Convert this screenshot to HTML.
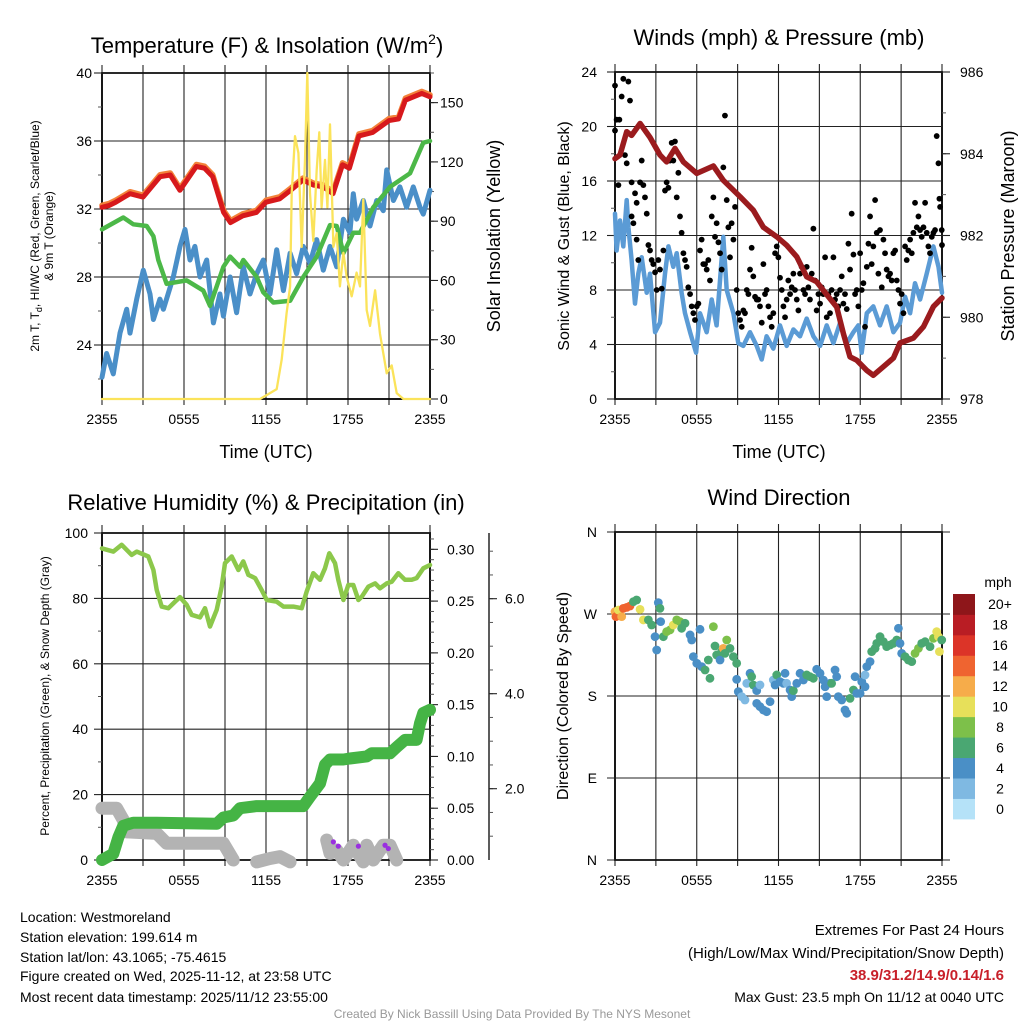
<!DOCTYPE html>
<html><head><meta charset="utf-8">
<style>
html,body{margin:0;padding:0;background:#fff;}
svg{display:block;font-family:"Liberation Sans",Arial,sans-serif;}
</style></head>
<body>
<svg id="chart" width="1024" height="1024" viewBox="0 0 1024 1024" xmlns="http://www.w3.org/2000/svg">
<rect x="0" y="0" width="1024" height="1024" fill="#fff"/>
<text x="267" y="53" font-size="22" text-anchor="middle">Temperature (F) &amp; Insolation (W/m<tspan font-size="14" dy="-9">2</tspan><tspan dy="9">)</tspan></text>
<text x="779" y="45" font-size="22" text-anchor="middle">Winds (mph) &amp; Pressure (mb)</text>
<text x="266" y="510" font-size="22" text-anchor="middle">Relative Humidity (%) &amp; Precipitation (in)</text>
<text x="779" y="505" font-size="22" text-anchor="middle">Wind Direction</text>
<text x="266" y="458" font-size="18" text-anchor="middle">Time (UTC)</text>
<text x="779" y="458" font-size="18" text-anchor="middle">Time (UTC)</text>
<text transform="translate(39,236) rotate(-90)" font-size="12" text-anchor="middle">2m T, T<tspan font-size="9" dy="3">d</tspan><tspan dy="-3">, HI/WC (Red, Green, Scarlet/Blue)</tspan></text>
<text transform="translate(53,236) rotate(-90)" font-size="12" text-anchor="middle">&amp; 9m T (Orange)</text>
<text transform="translate(500,236) rotate(-90)" font-size="18" text-anchor="middle">Solar Insolation (Yellow)</text>
<text transform="translate(569,236) rotate(-90)" font-size="16" text-anchor="middle">Sonic Wind &amp; Gust (Blue, Black)</text>
<text transform="translate(1014,236) rotate(-90)" font-size="18" text-anchor="middle">Station Pressure (Maroon)</text>
<text transform="translate(49,696) rotate(-90)" font-size="12" text-anchor="middle">Percent, Precipitation (Green), &amp; Snow Depth (Gray)</text>
<text transform="translate(568,696) rotate(-90)" font-size="16" text-anchor="middle">Direction (Colored By Speed)</text>
<text x="998" y="587" font-size="14" text-anchor="middle">mph</text>
<g font-size="14">
<text x="20" y="922">Location: Westmoreland</text>
<text x="20" y="942">Station elevation: 199.614 m</text>
<text x="20" y="962">Station lat/lon: 43.1065; -75.4615</text>
<text x="20" y="981">Figure created on Wed, 2025-11-12, at 23:58 UTC</text>
<text x="20" y="1002">Most recent data timestamp: 2025/11/12 23:55:00</text>
</g>
<g font-size="15" text-anchor="end">
<text x="1004" y="935">Extremes For Past 24 Hours</text>
<text x="1004" y="958">(High/Low/Max Wind/Precipitation/Snow Depth)</text>
<text x="1004" y="980" font-weight="bold" fill="#c8202a">38.9/31.2/14.9/0.14/1.6</text>
<text x="1004" y="1002" font-size="14">Max Gust: 23.5 mph On 11/12 at 0040 UTC</text>
</g>
<text x="512" y="1018" font-size="12" fill="#999" text-anchor="middle">Created By Nick Bassill Using Data Provided By The NYS Mesonet</text>
</svg>
<script>
const timeTickLabels = ["2355","0555","1155","1755","2355"];
const tempTicks = [24,28,32,36,40];
const solarTicks = [0,30,60,90,120,150];
const windTicks = [0,4,8,12,16,20,24];
const pressTicks = [978,980,982,984,986];
const rhTicks = [0,20,40,60,80,100];
const precipTicks = [0.00,0.05,0.10,0.15,0.20,0.25,0.30];
const snowTicks = [2.0,4.0,6.0];
const dirTicks = [0,90,180,270,360];
const dirLabels = ["N","E","S","W","N"];
const speedBins = ["0","2","4","6","8","10","12","14","16","18","20+"];
const speedColors = ["#b5e2f8","#7fb9e2","#4a8fc6","#4aa772","#7dc04a","#e7e05a","#f6ac4a","#ef6430","#dc3428","#b91d24","#8e161a"];

const redT = [0,0.5,1,2.05,3,4.25,5,5.7,6.9,7.5,8.1,8.9,9.4,10.3,11.3,12,13,13.8,14.7,15.5,16.2,16.9,17.6,18.1,18.8,19.8,21,21.7,22.2,23.4,24];
const redV = [32.1,32.2,32.4,32.9,32.7,33.9,34.0,33.1,34.5,34.4,33.9,31.8,31.2,31.6,31.8,32.4,32.6,33.1,33.7,33.4,33.3,32.9,34.6,34.4,36.3,36.5,37.2,37.3,38.4,38.8,38.6];
const greenT = [0,1.56,2.29,3.27,3.76,4.12,4.73,6.2,7.41,7.9,8.88,9.37,10.1,10.34,11.32,11.8,12.54,13.76,14.73,15.71,16.68,17.17,17.66,18.39,18.88,19.85,21.07,22.54,23.51,24];
const greenV = [30.8,31.5,31.1,31.0,30.4,29.0,27.6,27.8,27.2,26.3,28.6,29.2,28.6,29.0,28.0,27.1,26.5,26.6,28.0,29.2,31.05,31.0,29.4,30.6,30.6,32.1,33.3,34.1,35.9,36.0];
const blueT = [0,0.34,0.83,1.32,1.81,2.05,2.54,3.02,3.51,3.76,4.24,4.49,5.22,5.71,6.07,6.44,6.8,7.17,7.66,8.15,8.63,8.88,9.37,9.85,10.34,10.83,11.32,11.8,12.29,12.78,13.27,13.76,14.24,14.73,15.22,15.71,16.19,16.68,17.17,17.66,18.14,18.39,18.63,19.12,19.61,20.1,20.58,20.83,21.32,21.8,22.29,22.78,23.27,23.51,24];
const blueV = [22.1,23.5,22.3,24.7,26.1,24.7,26.7,28.4,27.0,25.5,26.7,26.1,28.0,29.8,30.8,29.0,29.8,28.0,29.0,25.3,27.0,25.7,28.0,25.9,28.6,27.0,28.2,29.0,27.0,29.6,27.2,29.4,28.2,29.8,28.8,30.2,28.4,29.8,28.6,31.4,30.6,32.9,31.4,32.5,31.0,32.5,31.9,34.3,32.5,33.3,32.1,33.3,32.1,31.7,33.1];
const solarT = [0,11.56,12.29,12.78,13.15,13.51,13.76,13.88,14.12,14.37,14.61,14.85,15.02,15.22,15.46,15.71,15.9,16.07,16.32,16.49,16.68,16.93,17.17,17.41,17.66,17.9,18.27,18.63,18.88,19.12,19.37,19.61,19.98,20.34,20.83,21.2,21.56,22.05,24];
const solarV = [0,0,3,5,20,43.5,57,104,133,124.5,77,121,165,104,80,116,135,97,121,97,139,77,84,57,74,62,52,64,57,101,45,37,55,33,13,17,3,0,0];

const pressT = [0,0.37,0.86,1.22,1.84,2.57,3.3,3.79,4.4,5.02,6.0,7.22,7.95,9.18,10.15,10.89,11.87,12.6,13.34,14.07,14.8,15.29,16.27,16.76,17.25,17.74,18.48,18.96,19.7,20.43,20.92,21.9,22.64,23.37,24];
const pressV = [983.88,983.97,984.54,984.45,984.74,984.4,983.97,983.8,984.13,983.8,983.52,983.7,983.35,982.95,982.62,982.2,981.97,981.76,981.48,980.99,980.87,980.66,980.25,979.6,979.03,978.95,978.7,978.58,978.79,979.0,979.37,979.49,979.77,980.26,980.47];
const windT = [0,0.12,0.37,0.61,0.86,0.98,1.22,1.47,1.71,1.96,2.33,2.57,2.94,3.3,3.67,3.92,4.28,4.53,4.89,5.14,5.51,5.95,6.24,6.73,7.1,7.46,7.95,8.2,8.69,9.05,9.42,9.91,10.4,10.77,11.13,11.62,12.11,12.6,13.09,13.58,14.07,14.56,15.05,15.54,16.03,16.52,17.01,17.5,17.86,18.11,18.48,18.96,19.45,19.94,20.43,20.92,21.29,21.66,22.02,22.39,22.88,23.37,23.74,24];
const windV = [13.6,10.9,13.1,11.2,14.6,12.6,10.2,7.0,9.2,10.4,7.8,9.2,4.9,5.6,9.2,11.2,9.7,10.7,7.8,6.3,4.9,3.4,6.3,4.9,7.3,5.4,11.9,8.0,6.3,4.1,3.9,4.9,3.9,2.9,4.6,3.7,5.4,3.9,5.1,4.6,5.9,4.6,3.9,5.4,4.1,5.6,4.1,4.9,5.4,3.4,6.3,6.8,5.4,6.8,4.9,5.6,7.5,6.3,8.5,7.3,9.2,11.2,9.7,7.8];
const gustT = [0,0,0.12,0.32,0.25,0.61,0.49,0.98,1.1,0.73,0.86,1.22,1.22,1.35,1.59,1.47,1.59,1.71,1.84,1.96,2.08,2.2,2.33,2.45,2.57,2.69,2.81,2.94,3.06,3.18,3.3,3.43,3.55,3.67,3.79,3.92,4.04,4.16,4.28,4.4,4.53,4.65,4.77,4.89,5.02,5.14,5.26,5.38,5.51,5.63,5.75,5.87,6.0,6.12,6.24,6.36,6.48,6.61,6.73,6.85,6.97,7.1,7.22,7.34,7.46,7.59,7.71,7.83,7.95,8.07,8.2,8.32,8.44,8.56,8.69,8.81,8.93,9.05,9.18,9.3,9.42,9.54,9.67,9.79,9.91,10.03,10.15,10.28,10.4,10.52,10.64,10.77,10.89,11.01,11.13,11.26,11.38,11.5,11.62,11.75,11.87,11.99,12.11,12.24,12.36,12.48,12.6,12.72,12.85,12.97,13.09,13.21,13.34,13.46,13.58,13.7,13.83,13.95,14.07,14.19,14.31,14.44,14.56,14.68,14.8,14.93,15.05,15.17,15.29,15.42,15.54,15.66,15.78,15.9,16.03,16.15,16.27,16.39,16.52,16.64,16.76,16.88,17.01,17.13,17.25,17.37,17.5,17.62,17.74,17.86,17.99,18.11,18.23,18.35,18.48,18.6,18.72,18.84,18.96,19.09,19.21,19.33,19.45,19.58,19.7,19.82,19.94,20.07,20.19,20.31,20.43,20.56,20.68,20.8,20.92,21.04,21.17,21.29,21.41,21.53,21.66,21.78,21.9,22.02,22.15,22.27,22.39,22.51,22.64,22.76,22.88,23.0,23.12,23.25,23.37,23.49,23.61,23.74,23.81,23.86,23.98,24.0];
const gustV = [23.0,19.7,20.5,20.5,15.7,23.5,22.2,23.3,21.9,17.9,17.3,15.9,13.4,12.9,11.7,15.1,14.4,10.2,15.9,17.5,15.7,14.8,13.6,11.3,10.9,10.2,9.9,9.3,8.0,10.2,9.5,8.1,10.9,15.3,15.9,15.5,17.5,18.8,17.5,18.9,14.8,16.6,13.4,12.2,10.7,10.2,9.7,8.2,7.7,6.8,6.3,5.8,6.8,7.0,10.9,11.7,9.9,9.9,9.5,10.2,8.7,13.4,14.8,11.9,12.9,11.5,10.7,9.5,17.0,20.8,14.6,12.6,10.4,12.9,11.7,14.1,8.0,6.3,5.8,5.3,6.5,6.3,8.0,7.7,9.5,11.1,9.0,7.5,7.3,7.3,6.8,5.6,9.9,7.7,8.0,6.8,6.0,5.3,6.3,10.7,11.2,10.4,8.9,8.0,6.8,6.0,7.3,8.7,7.7,8.2,9.2,8.0,7.3,6.5,9.2,9.7,8.0,7.7,9.7,8.2,7.3,9.2,12.5,8.7,6.5,7.7,7.0,8.2,7.7,10.4,6.0,7.7,6.3,8.0,10.4,7.3,7.7,6.8,8.0,9.0,7.0,7.7,6.6,11.4,9.5,13.6,10.6,7.7,8.0,6.8,10.7,8.0,8.5,5.3,9.7,11.4,13.4,9.9,11.2,14.6,12.2,9.2,12.4,8.2,11.7,10.7,9.5,9.0,9.2,8.7,10.7,10.9,8.7,8.0,7.0,7.7,6.3,11.2,10.2,10.9,11.7,10.7,12.2,14.4,12.6,13.4,12.4,11.9,12.6,14.4,12.2,11.2,10.7,11.9,12.2,12.4,19.3,17.3,14.7,14.1,12.4,11.3];

const rhT = [0,0.83,1.44,2.17,2.54,3.39,3.76,4.0,4.37,4.85,5.34,5.71,6.2,6.56,7.17,7.54,7.9,8.39,8.76,9.0,9.49,9.98,10.34,10.71,11.2,11.68,12.05,12.78,13.27,14.0,14.61,14.98,15.46,15.95,16.32,16.63,17.05,17.29,17.66,18.02,18.39,18.76,19.0,19.49,19.98,20.34,20.83,21.2,21.68,22.17,22.66,23.02,23.51,24];
const rhV = [95.3,94.3,96.4,93.3,94.3,92.8,88.7,82.6,77.5,77.0,79.0,80.4,78.0,75.0,74.2,77.0,71.4,76.5,83.6,90.8,92.8,88.7,91.3,87.2,86.2,82.6,79.5,79.0,77.5,77.5,77.0,82.1,87.7,85.7,89.2,93.8,90.8,85.7,79.5,84.1,84.1,79.5,80.5,83.6,84.6,83.1,84.6,85.1,87.7,85.7,85.7,86.2,89.2,90.2];
const precipT = [0,0.83,1.2,1.56,2.29,4.0,8.39,8.88,9.61,10.1,11.32,14.73,15.22,15.95,16.32,16.68,17.66,18.14,19.37,19.73,21.07,21.56,22.17,23.02,23.27,23.51,24];
const precipV = [0,0.006,0.022,0.033,0.036,0.036,0.035,0.041,0.043,0.05,0.052,0.052,0.061,0.074,0.092,0.097,0.097,0.098,0.100,0.103,0.103,0.109,0.116,0.116,0.132,0.142,0.145];
const snowT = [0,1.07,1.56,1.81,4.0,4.73,8.88,9.61,null,11.32,12.29,13.02,13.76,null,16.44,16.68,17.17,17.66,18.39,19.12,19.37,19.85,20.58,21.07,21.56];
const snowV = [1.59,1.59,1.34,1.09,1.06,0.85,0.85,0.5,null,0.46,0.53,0.57,0.46,null,0.92,0.64,0.71,0.5,0.81,0.46,0.81,0.5,0.81,0.81,0.5];
const ptypeT = [16.93,17.29,18.76,20.71,20.95];
const ptypeV = [0.88,0.79,0.79,0.81,0.74];

const dirT = [0,0.07,0.25,0.49,0.61,0.86,1.1,1.35,1.59,1.84,2.08,2.45,2.69,2.94,3.06,3.18,3.3,3.35,3.55,3.79,4.04,4.28,4.53,4.77,4.89,5.14,5.51,5.63,5.75,6.0,6.24,6.36,6.61,6.85,6.97,7.22,7.34,7.46,7.71,7.83,7.95,8.07,8.2,8.44,8.69,8.93,8.93,9.05,9.3,9.54,9.67,9.91,10.03,10.15,10.4,10.64,10.4,10.64,10.89,11.13,11.38,11.62,11.75,11.87,12.11,12.36,12.48,12.6,12.85,12.97,13.09,13.34,13.58,13.83,14.07,14.31,14.56,14.8,15.05,15.29,15.42,15.54,15.78,15.9,16.15,16.27,16.39,16.64,16.88,17.01,17.25,17.5,17.62,17.74,17.99,18.11,18.35,18.35,18.48,18.72,18.84,19.09,19.21,19.45,19.7,19.94,20.19,20.43,20.68,20.8,20.92,21.04,21.29,21.53,21.78,22.02,22.27,22.51,22.76,23.12,23.37,23.61,23.74,23.81,23.98];
const dirV = [272.6,267.1,274.4,267.1,276.2,277.3,278.8,283.5,285.4,275.1,263.5,263.5,257.9,245.1,230.5,282.5,276.2,261.6,245.1,250.6,252.5,257.9,263.5,261.6,254.3,259.8,247,241.5,223.2,215.9,253.2,212.2,208.5,219.5,199.4,256.1,234.9,225,219.5,228.7,232.3,226.8,241.5,232.3,223.2,215.9,198.3,184.8,179.3,175.6,193.9,204.9,201.2,192.1,185.9,192.1,171.9,168.3,164.6,162.8,173.8,197.6,192.1,203.1,195.8,193.9,204.9,193.9,186.6,179.3,185.9,193.9,204.9,197.6,203.1,201.2,199.4,209.3,204.9,197.6,190.2,179.3,193.9,193.9,208.5,201.2,179.3,175.6,164.6,161,177.4,186.6,201.2,182.9,182.9,195.8,203.1,190.2,212.2,217.7,228.7,232.3,237.8,245.1,239.6,234.2,236,237.8,241.5,254.3,237.8,226.8,223.2,219.5,217.7,226.8,232.3,237.8,239.6,234.2,243.3,250.6,245.1,228.7,241.5];
const dirS = [13,15,11,13,14,15,15,7,7,10,10,7,6,4,4,4,7,4,7,9,9,10,9,9,7,6,4,4,4,4,4,5,6,7,6,8,6,6,5,6,13,7,9,6,6,6,4,4,3,3,3,4,7,6,4,3,4,4,4,4,4,3,4,6,4,4,4,3,4,4,6,4,4,4,6,6,6,4,4,4,4,4,4,6,4,4,4,4,4,4,6,6,4,4,4,4,3,4,4,4,6,6,7,6,6,6,6,6,6,4,4,4,6,6,6,8,8,7,7,6,8,10,10,10,7];

const NS = "http://www.w3.org/2000/svg";
const svg = document.getElementById('chart');
function mk(tag, attrs, parent){
  const e = document.createElementNS(NS, tag);
  for (const k in attrs) e.setAttribute(k, attrs[k]);
  (parent || svg).appendChild(e);
  return e;
}
function pts(T, V, fx, fy){
  const segs = [[]];
  for (let i=0;i<T.length;i++){
    if (T[i]===null || V[i]===null){ segs.push([]); continue; }
    segs[segs.length-1].push(fx(T[i]).toFixed(1)+","+fy(V[i]).toFixed(1));
  }
  return segs.filter(s=>s.length).map(s=>s.join(" "));
}

const P1 = {x0:102,x1:430,y0:73,y1:399};
const P2 = {x0:615,x1:942,y0:72,y1:399};
const P3 = {x0:102,x1:430,y0:533,y1:860};
const P4 = {x0:615,x1:942,y0:532,y1:860};
const xA = t => P1.x0 + t/24*(P1.x1-P1.x0);
const xB = t => P2.x0 + t/24*(P2.x1-P2.x0);
const yTemp = v => 73 + (40-v)*17;
const ySolar = v => 399 - v*326/165;
const yWind = v => 399 - v*327/24;
const yPress = v => 399 - (v-978)*327/8;
const yRH = v => 860 - v*3.27;
const yPrecip = v => 860 - v*1035.6;
const ySnow = v => 883.7 - v*47.5;
const yDir = v => 860 - v*328/360;

function frame(P, name, xf){
  const g = mk('g', {});
  
  
  for (let h=0; h<=24; h+=3){
    const x = xf(h);
    const l = mk('line', {x1:x, x2:x, y1:P.y0-8, y2:P.y1+6, stroke:'#222', 'stroke-width':1.1}, g);
    
    
  }
  timeTickLabels.forEach((s,i)=>{
    const t = mk('text', {x:xf(i*6), y:P.y1+25, 'font-size':14, 'text-anchor':'middle'}, g);
    t.textContent = s;
    
    
  });
  const r = mk('rect', {x:P.x0, y:P.y0, width:P.x1-P.x0, height:P.y1-P.y0, fill:'none', stroke:'#000', 'stroke-width':1.8}, g);
  
  
  return g;
}
function hgrid(g, P, ticks, yf, name){
  ticks.forEach(v=>{
    const l = mk('line', {x1:P.x0, x2:P.x1, y1:yf(v), y2:yf(v), stroke:'#222', 'stroke-width':1.1}, g);
    
    
  });
}
function leftAxis(g, P, ticks, minor, yf, labels, name, lx){
  minor.forEach(v=>{
    const l = mk('line', {x1:P.x0-4, x2:P.x0, y1:yf(v), y2:yf(v), stroke:'#555', 'stroke-width':1}, g);
    
    
  });
  ticks.forEach((v,i)=>{
    const l = mk('line', {x1:P.x0-8, x2:P.x0, y1:yf(v), y2:yf(v), stroke:'#222', 'stroke-width':1.1}, g);
    
    
    const t = mk('text', {x:lx, y:yf(v)+5, 'font-size':14, 'text-anchor':'end'}, g);
    t.textContent = labels ? labels[i] : String(v);
    
    
  });
}
function rightAxis(g, ax, ticks, minor, yf, fmt, name, lx){
  minor.forEach(v=>{
    const l = mk('line', {x1:ax, x2:ax+4, y1:yf(v), y2:yf(v), stroke:'#555', 'stroke-width':1}, g);
    
    
  });
  ticks.forEach(v=>{
    const l = mk('line', {x1:ax, x2:ax+8, y1:yf(v), y2:yf(v), stroke:'#222', 'stroke-width':1.1}, g);
    
    
    const t = mk('text', {x:lx, y:yf(v)+5, 'font-size':14, 'text-anchor':'start'}, g);
    t.textContent = fmt(v);
    
    
  });
}
function range(a,b,s){const r=[];for(let v=a;v<=b+1e-9;v+=s)r.push(+v.toFixed(4));return r;}
function line(T,V,fx,fy,color,w,name,parent){
  pts(T,V,fx,fy).forEach(p=>{
    const l = mk('polyline', {points:p, fill:'none', stroke:color, 'stroke-width':w, 'stroke-linejoin':'round', 'stroke-linecap':'round'}, parent);
    
    
  });
}

const g1 = frame(P1, 'temperature', xA);
hgrid(g1, P1, tempTicks, yTemp, 'temperature');
leftAxis(g1, P1, tempTicks, range(22,40,2), yTemp, null, 'temperature-y', 92);
rightAxis(g1, P1.x1, solarTicks, range(15,165,15), ySolar, v=>String(v), 'solar-y', 440);
line(blueT, blueV, xA, yTemp, '#4a8fc8', 5, 'wind-chill-line');
line(greenT, greenV, xA, yTemp, '#4cb848', 4.5, 'dewpoint-line');
line(redT, redV.map(v=>v+0.12), xA, yTemp, '#f3823a', 5.5, 'temp-9m-line');
line(redT, redV, xA, yTemp, '#d7191c', 5, 'temp-2m-line');
line(solarT, solarV, xA, ySolar, '#fbe35a', 2.3, 'solar-line');

const g2 = frame(P2, 'winds', xB);
hgrid(g2, P2, windTicks, yWind, 'winds');
leftAxis(g2, P2, windTicks, range(2,22,2), yWind, null, 'wind-y', 597);
rightAxis(g2, P2.x1, pressTicks, range(978,986,1), yPress, v=>String(v), 'pressure-y', 960);
line(windT, windV, xB, yWind, '#5b9bd5', 4.5, 'sonic-wind-line');
const gg = mk('g', {});


gustT.forEach((t,i)=>{
  const c = mk('circle', {cx:xB(t), cy:yWind(gustV[i]), r:2.9, fill:'#000'}, gg);
  
  
});
line(pressT, pressV, xB, yPress, '#9b1b1e', 5.5, 'pressure-line');

const g3 = frame(P3, 'humidity', xA);
hgrid(g3, P3, rhTicks, yRH, 'humidity');
leftAxis(g3, P3, rhTicks, range(10,90,20), yRH, null, 'rh-y', 88);
rightAxis(g3, P3.x1, precipTicks, range(0,0.31,0.01), yPrecip, v=>v.toFixed(2), 'precip-y', 447);
const sAx = mk('line', {x1:489, x2:489, y1:P3.y0, y2:P3.y1, stroke:'#333', 'stroke-width':1.6});


rightAxis(svg, 489, snowTicks, range(1,7,0.5).filter(v=>ySnow(v)>=P3.y0 && ySnow(v)<=P3.y1), ySnow, v=>v.toFixed(1), 'snow-y', 505);
line(rhT, rhV, xA, yRH, '#8cc84b', 4.5, 'relative-humidity-line');
line(snowT, snowV, xA, ySnow, '#b3b3b3', 13, 'snow-depth-line');
line(precipT, precipV, xA, yPrecip, '#45b445', 12, 'precipitation-line');
ptypeT.forEach((t,i)=>{
  const c = mk('circle', {cx:xA(t), cy:ySnow(ptypeV[i]), r:2.6, fill:'#9a2fe0'});
  
  
});

const g4 = frame(P4, 'direction', xB);
dirTicks.forEach(v=>{
  const l = mk('line', {x1:P4.x0-8, x2:P4.x1+8, y1:yDir(v), y2:yDir(v), stroke:'#222', 'stroke-width':1.1}, g4);
  
  
});
dirTicks.forEach((v,i)=>{
  const t = mk('text', {x:597, y:yDir(v)+5, 'font-size':14, 'text-anchor':'end'}, g4);
  t.textContent = dirLabels[i];
  
  
});
const gd = mk('g', {});


function speedColor(s){ const b = Math.min(10, Math.floor(s/2)); return speedColors[b]; }
dirT.forEach((t,i)=>{
  const c = mk('circle', {cx:xB(t), cy:yDir(dirV[i]), r:4.4, fill:speedColor(dirS[i])}, gd);
  
  
});
const cb = mk('g', {});


const cbTop = 594, cbH = 225/11;
speedBins.forEach((lab,i)=>{
  const y = cbTop + (speedBins.length-1-i)*cbH;
  const r = mk('rect', {x:953, y:y, width:22, height:cbH+0.4, fill:speedColors[i]}, cb);
  
  
  const t = mk('text', {x:1000, y:y+cbH/2+5, 'font-size':14, 'text-anchor':'middle'}, cb);
  t.textContent = lab;
  
  
});
</script>
</body></html>
